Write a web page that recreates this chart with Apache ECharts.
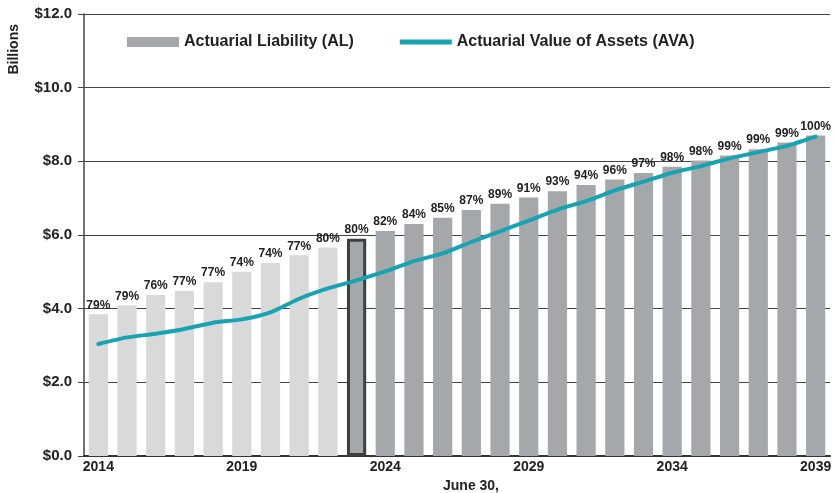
<!DOCTYPE html>
<html lang="en">
  <head>
    <meta charset="utf-8">
    <title>Actuarial Liability vs Actuarial Value of Assets</title>
    <script src="https://cdn.jsdelivr.net/npm/echarts@6/dist/echarts.min.js"></script>
    <style>
      html, body { margin: 0; padding: 0; background: #fff; }
    </style>
  </head>
  <body>
    <div id="chart" style="width: 835px;height:493px;"></div>
    <script type="text/javascript">
    // data ($ billions)
    var years = ['2014','2015','2016','2017','2018','2019','2020','2021','2022','2023','2024','2025','2026',
                 '2027','2028','2029','2030','2031','2032','2033','2034','2035','2036','2037','2038','2039'];
    var alValues = [3.85, 4.09, 4.37, 4.48, 4.72, 5.00, 5.24, 5.45, 5.66, 5.90, 6.11, 6.30, 6.47,
                    6.68, 6.85, 7.02, 7.19, 7.36, 7.51, 7.68, 7.85, 8.02, 8.16, 8.33, 8.51, 8.70];
    var avaValues = [3.04, 3.22, 3.32, 3.45, 3.62, 3.71, 3.90, 4.27, 4.55, 4.77, 5.01, 5.29, 5.50,
                     5.81, 6.10, 6.39, 6.69, 6.92, 7.21, 7.45, 7.69, 7.87, 8.08, 8.25, 8.42, 8.67];
    var fundedPct = ['79%','79%','76%','77%','77%','74%','74%','77%','80%','80%','82%','84%','85%',
                     '87%','89%','91%','93%','94%','96%','97%','98%','98%','99%','99%','99%','100%'];
    var valuationIndex = 9; // 2023 bar, outlined

    var chart = echarts.init(document.getElementById('chart'));

    var narrow = '"Liberation Sans Narrow", "Arial Narrow", "Liberation Sans", Arial, sans-serif';
    var sans = '"Liberation Sans", Arial, sans-serif';

    var barData = alValues.map(function (v, i) {
        var item = {
            value: v,
            itemStyle: { color: i < valuationIndex ? '#d9d9d9' : '#a5a8ab' }
        };
        if (i === valuationIndex) {
            item.itemStyle.borderColor = '#3b4141';
            item.itemStyle.borderWidth = 3;
        }
        return item;
    });

    var option = {
        animation: false,
        grid: { left: 84, right: 5, top: 14, bottom: 37, containLabel: false, outerBoundsMode: 'none' },
        legend: {
            left: 122,
            top: 29,
            itemWidth: 52,
            itemHeight: 10,
            itemGap: 46,
            textStyle: { fontFamily: sans, fontWeight: 'bold', fontSize: 16, color: '#222' },
            data: [
                { name: 'Actuarial Liability (AL)', icon: 'rect', itemStyle: { color: '#a5a8ab', borderWidth: 0 } },
                { name: 'Actuarial Value of Assets (AVA)', icon: 'path://M0,0 L52,0 L52,5 L0,5 Z',
                  itemStyle: { color: '#17a3b1', borderWidth: 0 } }
            ]
        },
        graphic: [{
            type: 'text',
            left: 7,
            top: 24,
            rotation: Math.PI / 2,
            style: { text: 'Billions', font: 'bold 14px ' + sans, fill: '#222' }
        }],
        xAxis: {
            type: 'category',
            data: years,
            name: 'June 30,',
            nameLocation: 'middle',
            nameGap: 21,
            nameTextStyle: { fontFamily: narrow, fontWeight: 'bold', fontSize: 14, color: '#222', padding: [0, 0, 0, 28] },
            axisLine: { lineStyle: { color: '#333', width: 2 } },
            axisTick: { show: false },
            axisLabel: {
                interval: 4,
                margin: 4,
                fontFamily: narrow, fontWeight: 'bold', fontSize: 14, color: '#222'
            }
        },
        yAxis: {
            type: 'value',
            min: 0,
            max: 12,
            interval: 2,
            axisLine: { show: true, lineStyle: { color: '#444', width: 1.5 } },
            axisTick: { show: true, length: 6, lineStyle: { color: '#444' } },
            splitLine: { lineStyle: { color: '#444', width: 1.2 } },
            axisLabel: {
                margin: 12,
                fontFamily: narrow, fontWeight: 'bold', fontSize: 15, color: '#222',
                formatter: function (v) { return '$' + v.toFixed(1); }
            }
        },
        series: [
            {
                name: 'Actuarial Liability (AL)',
                type: 'bar',
                barCategoryGap: '33%',
                data: barData,
                label: {
                    show: true,
                    position: 'top',
                    distance: 3,
                    fontFamily: sans, fontWeight: 'bold', fontSize: 12, color: '#222',
                    formatter: function (p) { return fundedPct[p.dataIndex]; }
                }
            },
            {
                name: 'Actuarial Value of Assets (AVA)',
                type: 'line',
                data: avaValues,
                symbol: 'none',
                smooth: 0.2,
                z: 5,
                lineStyle: { color: '#17a3b1', width: 4, cap: 'round' },
                itemStyle: { color: '#17a3b1' }
            }
        ]
    };

    chart.setOption(option);
    </script>
  </body>
</html>
